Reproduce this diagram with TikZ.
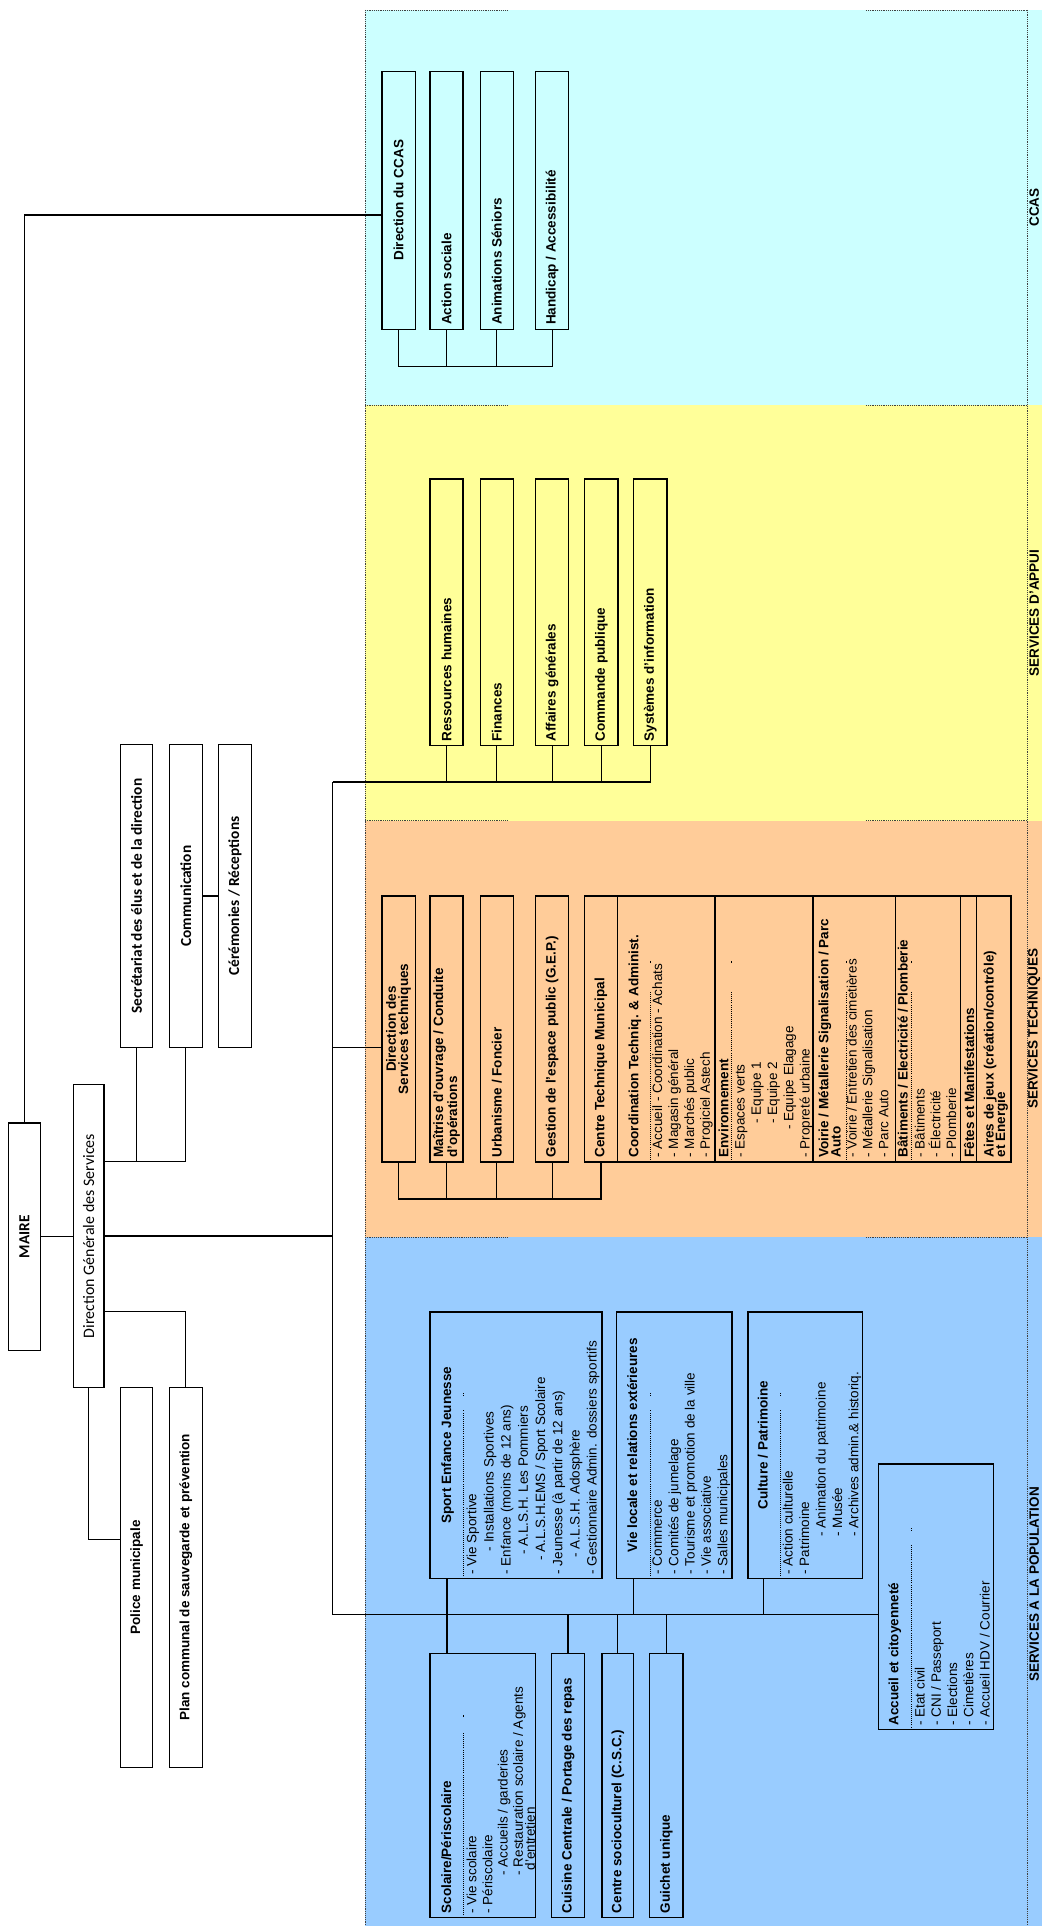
\documentclass[tikz,border=0pt]{standalone}
\usepackage{fontspec}
\setmainfont{Liberation Sans}
\newfontfamily\calfont{Carlito}
\usepackage{graphicx}
\definecolor{ccascol}{HTML}{CCFFFF}
\definecolor{appuicol}{HTML}{FFFF99}
\definecolor{techcol}{HTML}{FFCC99}
\definecolor{popcol}{HTML}{99CCFF}
\newcommand{\vtxt}[1]{\rotatebox{90}{#1}}
\newcommand{\vtxtl}[2]{\rotatebox{90}{\makebox[#1pt][l]{#2}}}
\newcommand{\vpar}[2]{\rotatebox{90}{\parbox{#1pt}{#2}}}
\begin{document}
\begin{tikzpicture}
    [x=1pt, y=-1pt,
    unitbox/.style={draw, line width=1.1pt, inner sep=0pt, font=\bfseries\fontsize{11}{10}\selectfont},
    boxsize/.style 2 args={minimum width=#1pt, minimum height=#2pt},
    leftbox/.style={unitbox, line width=0.9pt, font=\calfont\bfseries\fontsize{12.5}{14}\selectfont},
    item/.style={rotate=90, anchor=base west, inner sep=0pt, font=\fontsize{11}{13}\selectfont},
    head/.style={item, font=\bfseries\fontsize{11}{13}\selectfont},
    link/.style={line width=1pt},
    divider/.style={line width=1.1pt},
    titlerule/.style={densely dotted, line width=0.7pt},
    bandline/.style={densely dotted, line width=0.5pt, black!75},
    bandlabel/.style={rotate=90, font=\bfseries\fontsize{11}{13}\selectfont}]

    \useasboundingbox (0,0) rectangle (848,1568);

    % coloured bands
    \fill[ccascol] (297,8) rectangle (848,330);
    \fill[appuicol] (297,330) rectangle (848,668);
    \fill[techcol] (297,668) rectangle (848,1007);
    \fill[popcol] (297,1007) rectangle (848,1568);
    \draw[bandline] (297,8) -- (297,1568) (836,8) -- (836,1568);
    \draw[bandline] (297,8) -- (413,8) (705,8) -- (836,8);
    \draw[bandline] (297,330) -- (413,330) (705,330) -- (836,330);
    \draw[bandline] (297,668) -- (413,668) (705,668) -- (836,668);
    \draw[bandline] (297,1007) -- (413,1007) (705,1007) -- (836,1007);

    \node[bandlabel] (lccas) at (842,169) {CCAS};
    \node[bandlabel] (lappui) at (842,499) {SERVICES D'APPUI};
    \node[bandlabel] (ltech) at (842,837.5) {SERVICES TECHNIQUES};
    \node[bandlabel] (lpop) at (842,1290) {SERVICES A LA POPULATION};

    % mairie and direction
    \node[leftbox, boxsize={26}{185}] (maire) at (19.9,1006.75) {\vtxt{MAIRE}};
    \node[leftbox, boxsize={25}{247}, font=\calfont\fontsize{13}{15}\selectfont] (dgs) at (72.15,1006.3) {\vtxt{Direction Générale des Services}};
    \node[leftbox, boxsize={26.5}{247}] (secr) at (111.25,729.5) {\vtxt{Secrétariat des élus et de la direction}};
    \node[leftbox, boxsize={26.5}{247}] (comm) at (151.3,729.5) {\vtxt{Communication}};
    \node[leftbox, boxsize={26.5}{247}] (cere) at (191.3,729.5) {\vtxt{Cérémonies / Réceptions}};
    \node[leftbox, boxsize={26.5}{309}, font=\bfseries\fontsize{11}{13}\selectfont] (police) at (111.25,1284.1) {\vtxt{Police municipale}};
    \node[leftbox, boxsize={26.5}{309}, font=\bfseries\fontsize{11}{13}\selectfont] (plan) at (151.3,1284.1) {\vtxt{Plan communal de sauvegarde et prévention}};

    \coordinate (trunktop) at (270.7,636.7);
    \coordinate (trunkbot) at (270.7,1314.5);
    \coordinate (dstlink) at (270.7,853);

    % CCAS
    \node[unitbox, boxsize={27}{210}] (dccas) at (324.5,163) {\vtxt{Direction du CCAS}};
    \node[unitbox, boxsize={27}{210}] (action) at (363.5,163) {\vtxtl{203}{Action sociale}};
    \node[unitbox, boxsize={27}{210}] (anim) at (404.5,163) {\vtxtl{203}{Animations Séniors}};
    \node[unitbox, boxsize={27}{210}] (handi) at (449.5,163) {\vtxtl{203}{Handicap / Accessibilité}};

    % services d'appui
    \node[unitbox, boxsize={27}{217}] (rh) at (363.5,498.5) {\vtxtl{210}{Ressources humaines}};
    \node[unitbox, boxsize={27}{217}] (fin) at (404.5,498.5) {\vtxtl{210}{Finances}};
    \node[unitbox, boxsize={27}{217}] (ag) at (449.5,498.5) {\vtxtl{210}{Affaires générales}};
    \node[unitbox, boxsize={27}{217}] (cp) at (489.5,498.5) {\vtxtl{210}{Commande publique}};
    \node[unitbox, boxsize={27}{217}] (si) at (529.5,498.5) {\vtxtl{210}{Systèmes d'information}};

    % services techniques
    \node[unitbox, boxsize={27}{216.5}] (dst) at (324.5,837.75) {\vpar{209}{\centering Direction des\\Services techniques}};
    \node[unitbox, boxsize={27}{216.5}] (mop) at (363.5,837.75) {\vpar{209}{\raggedright Maîtrise d'ouvrage / Conduite\\d'opérations}};
    \node[unitbox, boxsize={27}{216.5}] (urba) at (404.5,837.75) {\vtxtl{209}{Urbanisme / Foncier}};
    \node[unitbox, boxsize={27}{216.5}] (gep) at (449.5,837.75) {\vtxtl{209}{Gestion de l'espace public (G.E.P.)}};
    \node[unitbox, boxsize={26.5}{216.5}] (ctm) at (489.25,837.75) {\vtxtl{209}{Centre Technique Municipal}};
    \node[unitbox, boxsize={320.5}{216.5}] (ctmd) at (662.75,837.75) {};
    \draw[divider] (582,729.5) -- (582,946);
    \draw[divider] (662,729.5) -- (662,946);
    \draw[divider] (729,729.5) -- (729,946);
    \draw[divider] (782,729.5) -- (782,946);
    \draw[divider] (795,729.5) -- (795,946);

    \node[head] (coot) at (519.8,942.5) {Coordination Techniq. \& Administ.};
    \node[item] (coo1) at (539,942.5) {- Accueil - Coordination - Achats};
    \node[item] (coo2) at (552,942.5) {- Magasin général};
    \node[item] (coo3) at (565,942.5) {- Marchés public};
    \node[item] (coo4) at (578,942.5) {- Progiciel Astech};
    \node[head] (envt) at (593,942.5) {Environnement};
    \node[item] (env1) at (606.3,942.5) {- Espaces verts};
    \node[item] (env2) at (619.5,915) {- Equipe 1};
    \node[item] (env3) at (632.7,915) {- Equipe 2};
    \node[item] (env4) at (645.9,920) {- Equipe Elagage};
    \node[item] (env5) at (659.1,942.5) {- Propreté urbaine};
    \node[head] (voit) at (674.3,942.5) {Voirie / Métallerie Signalisation / Parc};
    \node[head] (voit2) at (684.3,942.5) {Auto};
    \node[item] (voi1) at (697.3,942.5) {- Voirie / Entretien des cimetières};
    \node[item] (voi2) at (710.3,942.5) {- Métallerie Signalisation};
    \node[item] (voi3) at (723.3,942.5) {- Parc Auto};
    \node[head] (batt) at (738.9,942.5) {Bâtiments / Electricité / Plomberie};
    \node[item] (bat1) at (752.8,942.5) {- Bâtiments};
    \node[item] (bat2) at (765.6,942.5) {- Électricité};
    \node[item] (bat3) at (778.4,942.5) {- Plomberie};
    \node[head] (fet) at (793,942.5) {Fêtes et Manifestations};
    \node[head] (air1) at (808.9,942.5) {Aires de jeux (création/contrôle)};
    \node[head] (air2) at (818.3,942.5) {et Energie};
    \draw[titlerule] (529.5,946) -- (529.5,808) (529.5,784) -- (529.5,782);
    \draw[titlerule] (595.7,946) -- (595.7,808) (595.7,784) -- (595.7,782);
    \draw[titlerule] (688.8,946) -- (688.8,808) (688.8,784) -- (688.8,782);
    \draw[titlerule] (741.8,946) -- (741.8,808) (741.8,784) -- (741.8,782);

    % services a la population
    \node[unitbox, boxsize={140}{217}] (sej) at (420,1176.5) {};
    \node[unitbox, boxsize={94}{217}] (vie) at (549,1176.5) {};
    \node[unitbox, boxsize={93}{217}] (cult) at (655.5,1176.5) {};
    \node[unitbox, boxsize={94}{216}] (acc) at (762,1300) {};
    \node[unitbox, boxsize={86}{215}] (scol) at (393,1453.5) {};
    \node[unitbox, boxsize={27}{215}] (cuis) at (462.5,1453.5) {\vtxtl{208}{Cuisine Centrale / Portage des repas}};
    \node[unitbox, boxsize={26}{215}] (csc) at (503,1453.5) {\vtxtl{208}{Centre socioculturel (C.S.C.)}};
    \node[unitbox, boxsize={27}{215}] (gui) at (542.5,1453.5) {\vtxtl{208}{Guichet unique}};

    \node[head, anchor=base] (sejt) at (367.3,1176.5) {Sport Enfance Jeunesse};
    \node[item] (sej1) at (387.8,1282) {- Vie Sportive};
    \node[item] (sej2) at (401.8,1263) {- Installations Sportives};
    \node[item] (sej3) at (415.8,1282) {- Enfance (moins de 12 ans)};
    \node[item] (sej4) at (429.8,1266) {- A.L.S.H. Les Pommiers};
    \node[item] (sej5) at (443.8,1271) {- A.L.S.H.EMS / Sport Scolaire};
    \node[item] (sej6) at (457.8,1282) {- Jeunesse (à partir de 12 ans)};
    \node[item] (sej7) at (471.8,1268) {- A.L.S.H. Adosphère};
    \node[item] (sej8) at (485.8,1282) {- Gestionnaire Admin. dossiers sportifs};
    \draw[titlerule] (377,1285) -- (377,1148) (377,1136) -- (377,1134);

    \node[head, anchor=base] (viet) at (518.7,1176.5) {Vie locale et relations extérieures};
    \node[item] (vie1) at (538.9,1282) {- Commerce};
    \node[item] (vie2) at (552.2,1282) {- Comités de jumelage};
    \node[item] (vie3) at (565.5,1282) {- Tourisme et promotion de la ville};
    \node[item] (vie4) at (578.8,1282) {- Vie associative};
    \node[item] (vie5) at (592.1,1282) {- Salles municipales};
    \draw[titlerule] (529.5,1285) -- (529.5,1148) (529.5,1136) -- (529.5,1134);

    \node[head, anchor=base] (cultt) at (625,1176.5) {Culture / Patrimoine};
    \node[item] (cult1) at (645.3,1282) {- Action culturelle};
    \node[item] (cult2) at (658.7,1282) {- Patrimoine};
    \node[item] (cult3) at (672.1,1251) {- Animation du patrimoine};
    \node[item] (cult4) at (685.5,1251) {- Musée};
    \node[item] (cult5) at (698.9,1251) {- Archives admin.\& historiq.};
    \draw[titlerule] (635.6,1285) -- (635.6,1148) (635.6,1136) -- (635.6,1134);

    \node[head] (acct) at (731.3,1405) {Accueil et citoyenneté};
    \node[item] (acc1) at (752.8,1405) {- Etat civil};
    \node[item] (acc2) at (766,1405) {- CNI / Passeport};
    \node[item] (acc3) at (779.2,1405) {- Elections};
    \node[item] (acc4) at (792.4,1405) {- Cimetières};
    \node[item] (acc5) at (805.6,1405) {- Accueil HDV / Courrier};
    \draw[titlerule] (742,1408) -- (742,1258) (742,1246) -- (742,1244);

    \node[head] (scolt) at (367.3,1558) {Scolaire/Périscolaire};
    \node[item] (scol1) at (387.8,1558) {- Vie scolaire};
    \node[item] (scol2) at (400.8,1558) {- Périscolaire};
    \node[item] (scol3) at (413.3,1527) {- Accueils / garderies};
    \node[item] (scol4) at (425.7,1527) {- Restauration scolaire / Agents};
    \node[item] (scol5) at (435.5,1523) {d'entretien};
    \draw[titlerule] (377,1561) -- (377,1410) (377,1398) -- (377,1396);

    % connectors
    \draw[link] (maire.north) |- ([yshift=-12pt]dccas.west);
    \draw[link] (maire.east) -- (maire.east -| dgs.west);
    \draw[link] ([yshift=60.8pt]dgs.east) -| (comm.south);
    \draw[link] (secr.south) -- ++(0,92.5);
    \draw[link] (comm.east) -- (cere.west);
    \draw[link] (dgs.south) |- ([yshift=30.6pt]police.west);
    \draw[link] ([yshift=-61.7pt]dgs.east) -| (plan.north);
    \draw[link] (dgs.east) -- (dgs.east -| trunktop);
    \draw[link] (trunktop) -- (trunkbot);

    \draw[link] (dccas.south) -- ++(0,30) -| (handi.south);
    \draw[link] (action.south) -- ++(0,30);
    \draw[link] (anim.south) -- ++(0,30);

    \draw[link] (trunktop) -| (si.south);
    \draw[link] (rh.south) -- (rh.south |- trunktop);
    \draw[link] (fin.south) -- (fin.south |- trunktop);
    \draw[link] (ag.south) -- (ag.south |- trunktop);
    \draw[link] (cp.south) -- (cp.south |- trunktop);

    \draw[link] (dstlink) -- (dstlink -| dst.west);
    \draw[link] (dst.south) -- ++(0,29.6) -| (ctm.south);
    \draw[link] (mop.south) -- ++(0,29.6);
    \draw[link] (urba.south) -- ++(0,29.6);
    \draw[link] (gep.south) -- ++(0,29.6);

    \draw[link] (trunkbot) -- (trunkbot -| acc.west);
    \draw[link] ([xshift=-56pt]sej.south) -- ([xshift=-29pt]scol.north);
    \draw[link] ([xshift=-33.4pt]vie.south) -- ++(0,29.5);
    \draw[link] ([xshift=-33.8pt]cult.south) -- ++(0,29.5);
    \draw[link] (cuis.north) -- ++(0,-31.5);
    \draw[link] (csc.north) -- ++(0,-31.5);
    \draw[link] (gui.north) -- ++(0,-31.5);

\end{tikzpicture}
\end{document}
